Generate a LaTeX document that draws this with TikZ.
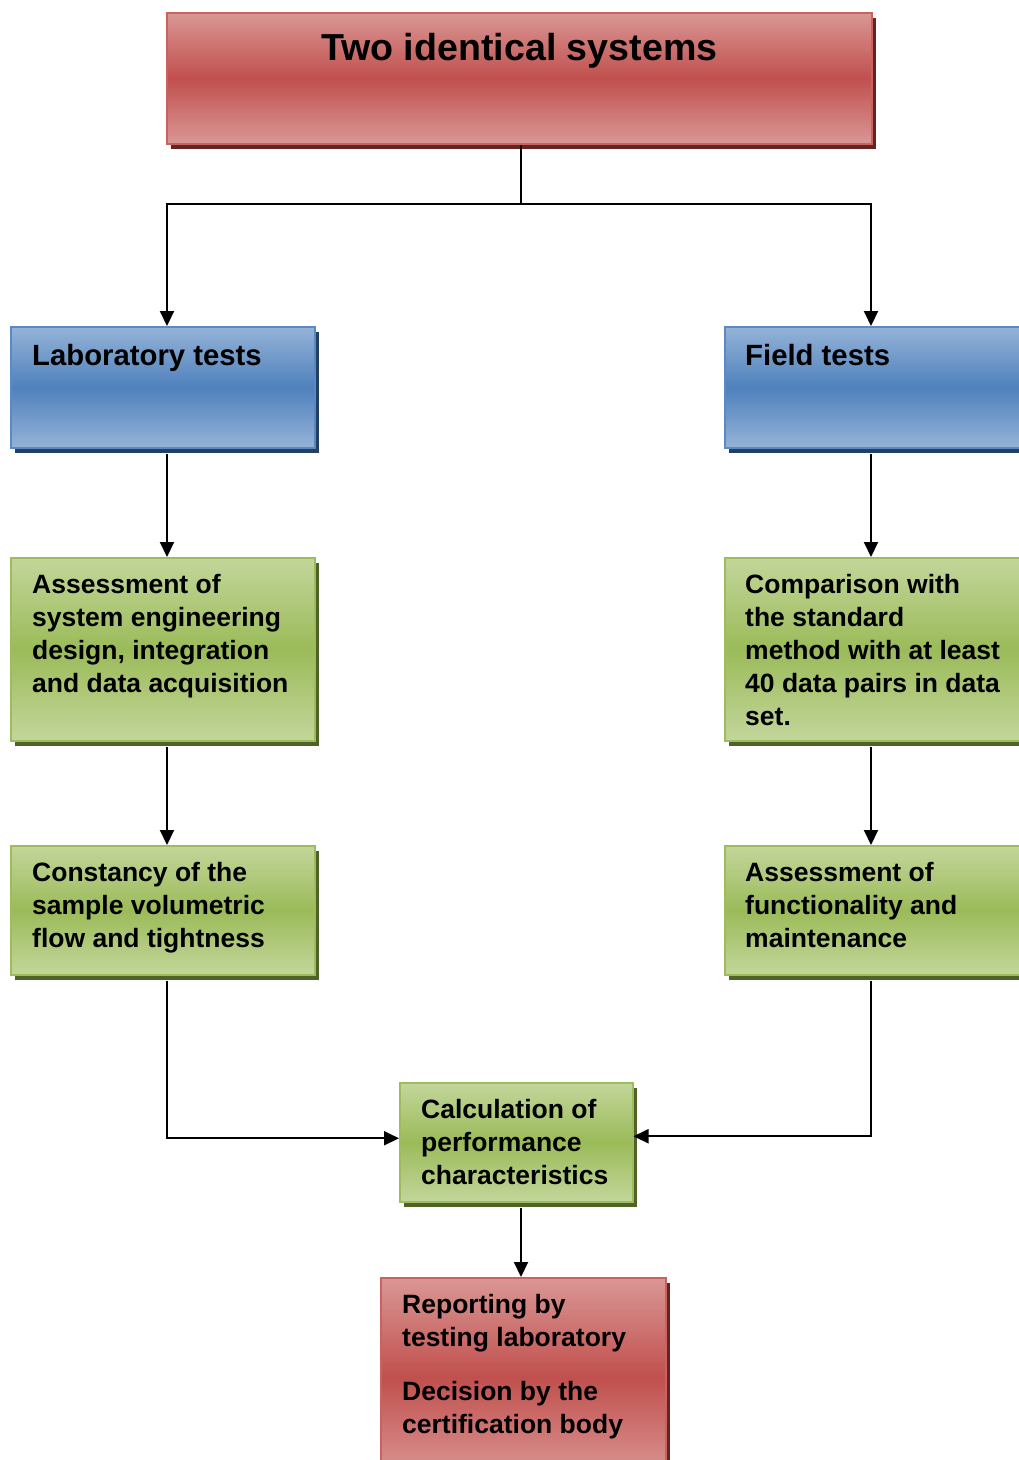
\documentclass[tikz,border=0pt]{standalone}
\usepackage{fontspec}
\setmainfont{Liberation Sans}
\usetikzlibrary{arrows.meta,shadows}
\definecolor{redlight}{HTML}{DA9795}
\definecolor{reddark}{HTML}{C0504D}
\definecolor{redline}{HTML}{CB625F}
\definecolor{redshadow}{HTML}{632523}
\definecolor{bluelight}{HTML}{95B3D7}
\definecolor{bluedark}{HTML}{4F81BD}
\definecolor{blueline}{HTML}{5A8AC6}
\definecolor{blueshadow}{HTML}{243F60}
\definecolor{greenlight}{HTML}{C3D69B}
\definecolor{greendark}{HTML}{9BBB59}
\definecolor{greenline}{HTML}{9DBD5C}
\definecolor{greenshadow}{HTML}{4F6228}
\tikzset{
  box/.style={draw, line width=1.5pt, anchor=north west, inner sep=0pt},
  redbox/.style={box, draw=redline, top color=redlight, bottom color=redlight, middle color=reddark,
    drop shadow={shadow xshift=4pt, shadow yshift=-5pt, fill=redshadow, opacity=1}},
  bluebox/.style={box, draw=blueline, top color=bluelight, bottom color=bluelight, middle color=bluedark,
    drop shadow={shadow xshift=4pt, shadow yshift=-5pt, fill=blueshadow, opacity=1}},
  greenbox/.style={box, draw=greenline, top color=greenlight, bottom color=greenlight, middle color=greendark,
    drop shadow={shadow xshift=4pt, shadow yshift=-5pt, fill=greenshadow, opacity=1}},
  txt/.style={anchor=north west, align=left, inner sep=0pt, font=\fontsize{26.5}{33}\selectfont\bfseries},
  headtxt/.style={txt, font=\fontsize{29.3}{35}\selectfont\bfseries},
  arr/.style={line width=2pt, -{Triangle[length=15pt,width=14pt]}},
  ln/.style={line width=2pt}
}
\begin{document}
\begin{tikzpicture}[x=1pt, y=-1pt]
\useasboundingbox (0,0) rectangle (1019,1460);

\node[redbox, minimum width=705pt, minimum height=131pt] (title) at (166,12) {};
\node[anchor=north, inner sep=0pt, font=\fontsize{37.6}{44}\selectfont\bfseries] (titletxt)
  at ([yshift=-21pt]title.north) {Two identical systems};

\node[bluebox, minimum width=304pt, minimum height=121pt] (lab) at (10,326) {};
\node[headtxt] (labtxt) at ([shift={(22pt,-17.6pt)}]lab.north west) {Laboratory tests};

\node[bluebox, minimum width=320pt, minimum height=121pt] (field) at (724,326) {};
\node[headtxt] (fieldtxt) at ([shift={(21pt,-17.6pt)}]field.north west) {Field tests};

\node[greenbox, minimum width=304pt, minimum height=183pt] (design) at (10,557) {};
\node[txt] (designtxt) at ([shift={(22pt,-16.6pt)}]design.north west)
  {Assessment of\\system engineering\\design, integration\\and data acquisition};

\node[greenbox, minimum width=320pt, minimum height=183pt] (compare) at (724,557) {};
\node[txt] (comparetxt) at ([shift={(21pt,-16.6pt)}]compare.north west)
  {Comparison with\\the standard\\method with at least\\40 data pairs in data\\set.};

\node[greenbox, minimum width=304pt, minimum height=129pt] (flow) at (10,845) {};
\node[txt] (flowtxt) at ([shift={(22pt,-16.6pt)}]flow.north west)
  {Constancy of the\\sample volumetric\\flow and tightness};

\node[greenbox, minimum width=320pt, minimum height=129pt] (func) at (724,845) {};
\node[txt] (functxt) at ([shift={(21pt,-16.6pt)}]func.north west)
  {Assessment of\\functionality and\\maintenance};

\node[greenbox, minimum width=233pt, minimum height=119pt] (calc) at (399,1082) {};
\node[txt] (calctxt) at ([shift={(22pt,-16.6pt)}]calc.north west)
  {Calculation of\\performance\\characteristics};

\node[redbox, minimum width=285pt, minimum height=200pt] (report) at (380,1277) {};
\node[txt] (reporttxt) at ([shift={(22pt,-16.6pt)}]report.north west)
  {Reporting by\\testing laboratory\\[21pt]Decision by the\\certification body};

\coordinate (split) at (521,204);
\coordinate (lcol) at (167,0);
\coordinate (rcol) at (871,0);
\draw[ln] (split |- title.south) -- (split);
\draw[arr] (split) -| (lcol |- lab.north);
\draw[arr] (split) -| (rcol |- field.north);
\draw[arr] ([yshift=-5pt]lcol |- lab.south) -- (lcol |- design.north);
\draw[arr] ([yshift=-5pt]rcol |- field.south) -- (rcol |- compare.north);
\draw[arr] ([yshift=-5pt]lcol |- design.south) -- (lcol |- flow.north);
\draw[arr] ([yshift=-5pt]rcol |- compare.south) -- (rcol |- func.north);
\draw[arr] ([yshift=-5pt]lcol |- flow.south) |- ([yshift=4pt]calc.west);
\draw[arr] ([yshift=-5pt]rcol |- func.south) |- ([yshift=6pt]calc.east);
\draw[arr] ([yshift=-5pt]split |- calc.south) -- (split |- report.north);
\end{tikzpicture}
\end{document}
